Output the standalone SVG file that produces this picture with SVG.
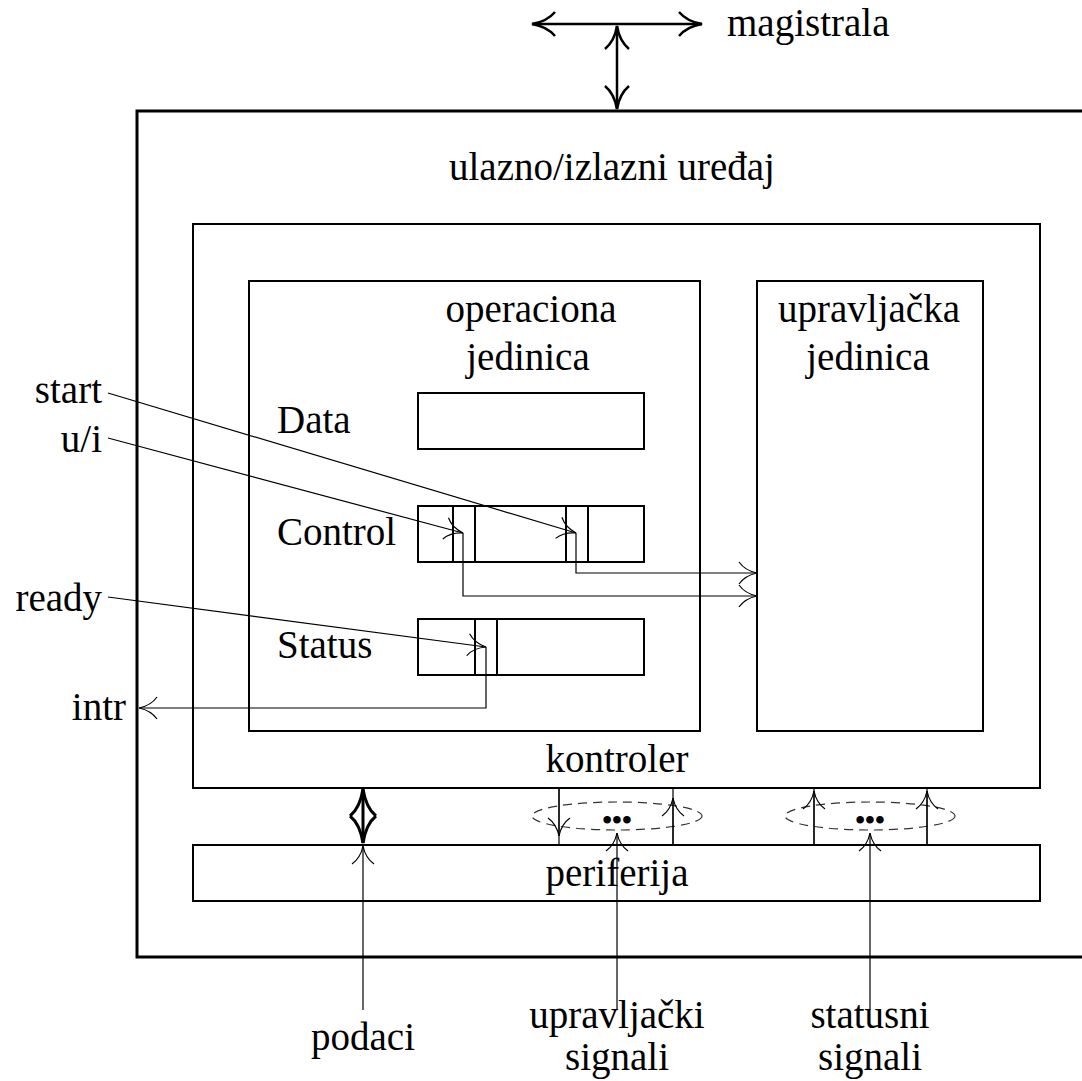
<svg xmlns="http://www.w3.org/2000/svg" width="1082" height="1081" viewBox="0 0 1082 1081">
<style>
  .t { font-family: "Liberation Serif", "Times New Roman", Times, "DejaVu Serif", serif; font-size: 39px; fill: #000; }
  .m { text-anchor: middle; }
  .e { text-anchor: end; }
  .dots { font-family: "Liberation Serif", "Times New Roman", "DejaVu Serif", serif; font-size: 28px; font-weight: bold; text-anchor: middle; }
  .box { fill: none; stroke: #000; stroke-width: 2; }
  .outer { fill: none; stroke: #000; stroke-width: 3; }
  .sig { fill: none; stroke: #000; stroke-width: 1.2; }
  .bus { fill: none; stroke: #000; stroke-width: 2.5; }
  .dash { fill: none; stroke: #333; stroke-width: 1.2; stroke-dasharray: 9 6; }
</style>
<defs>
  <marker id="aThin" markerUnits="userSpaceOnUse" orient="auto-start-reverse" viewBox="-22 -14 26 28" refX="0" refY="0" markerWidth="26" markerHeight="28" overflow="visible">
    <path d="M-18,-11 Q-12,-2.5 0,0 Q-12,2.5 -18,11" fill="none" stroke="#000" stroke-width="1.2"/>
  </marker>
  <marker id="aBus" markerUnits="userSpaceOnUse" orient="auto-start-reverse" viewBox="-30 -16 34 32" refX="0" refY="0" markerWidth="34" markerHeight="32" overflow="visible">
    <path d="M-23,-12 Q-15,-2.5 0,0 Q-15,2.5 -23,12" fill="none" stroke="#000" stroke-width="2.5"/>
  </marker>
  <marker id="aThick" markerUnits="userSpaceOnUse" orient="auto-start-reverse" viewBox="-34 -18 38 36" refX="0" refY="0" markerWidth="38" markerHeight="36" overflow="visible">
    <path d="M-27,-13 Q-19,-3 0,0 Q-19,3 -27,13" fill="none" stroke="#000" stroke-width="3"/>
  </marker>
</defs>

<g id="uredjaj">
  <path class="outer" d="M1082,111 L137,111 L137,957 L1082,957"/>
  <text class="t m" x="612" y="180">ulazno/izlazni uređaj</text>
</g>

<g id="kontroler">
  <rect class="box" x="193" y="224" width="847" height="564"/>
  <text class="t m" x="617" y="772">kontroler</text>
</g>

<g id="operaciona">
  <rect class="box" x="249" y="281" width="451" height="450"/>
  <text class="t m" x="531" y="322">operaciona</text>
  <text class="t m" x="528" y="370">jedinica</text>
</g>

<g id="upravljacka">
  <rect class="box" x="757" y="281" width="226" height="450"/>
  <text class="t m" x="869" y="322">upravljačka</text>
  <text class="t m" x="868" y="370">jedinica</text>
</g>

<g id="data">
  <rect class="box" x="418" y="393" width="226" height="56"/>
  <text class="t" x="277" y="433">Data</text>
</g>

<g id="control">
  <rect class="box" x="418" y="506" width="226" height="56"/>
  <line class="box" x1="453" y1="506" x2="453" y2="562"/>
  <line class="box" x1="475" y1="506" x2="475" y2="562"/>
  <line class="box" x1="566" y1="506" x2="566" y2="562"/>
  <line class="box" x1="588" y1="506" x2="588" y2="562"/>
  <text class="t" x="277" y="545">Control</text>
</g>

<g id="status">
  <rect class="box" x="418" y="619" width="226" height="56"/>
  <line class="box" x1="475" y1="619" x2="475" y2="675"/>
  <line class="box" x1="497" y1="619" x2="497" y2="675"/>
  <text class="t" x="277" y="658">Status</text>
</g>

<g id="periferija">
  <rect class="box" x="193" y="845" width="847" height="56"/>
  <text class="t m" x="617" y="886">periferija</text>
</g>

<g id="labels">
  <text class="t" x="727" y="36">magistrala</text>
  <text class="t e" x="102" y="403">start</text>
  <text class="t e" x="102" y="452">u/i</text>
  <text class="t e" x="102" y="611">ready</text>
  <text class="t e" x="126" y="720">intr</text>
  <text class="t m" x="363" y="1050">podaci</text>
  <text class="t m" x="617" y="1028">upravljački</text>
  <text class="t m" x="617" y="1070">signali</text>
  <text class="t m" x="870" y="1028">statusni</text>
  <text class="t m" x="870" y="1070">signali</text>
  <text class="dots" x="617" y="829">•••</text>
  <text class="dots" x="870" y="829">•••</text>
</g>

<g id="connectors">
  <line class="bus" x1="532" y1="24" x2="702" y2="24" marker-start="url(#aBus)" marker-end="url(#aBus)"/>
  <line class="bus" x1="617" y1="26" x2="617" y2="109" marker-start="url(#aBus)" marker-end="url(#aBus)"/>
  <path class="sig" d="M108,393 L576,533" marker-end="url(#aThin)"/>
  <path class="sig" d="M108,438 L463,533" marker-end="url(#aThin)"/>
  <path class="sig" d="M576,533 L576,573 L757,573" marker-end="url(#aThin)"/>
  <path class="sig" d="M463,533 L463,596 L757,596" marker-end="url(#aThin)"/>
  <path class="sig" d="M108,597 L486,647" marker-end="url(#aThin)"/>
  <path class="sig" d="M486,647 L486,708 L139,708" marker-end="url(#aThin)"/>
  <line x1="363" y1="789" x2="363" y2="843" stroke="#000" stroke-width="3" marker-start="url(#aThick)" marker-end="url(#aThick)"/>
  <path class="sig" d="M363,1010 L363,846" marker-end="url(#aThin)"/>
  <ellipse class="dash" cx="617" cy="816" rx="85" ry="14"/>
  <line class="sig" x1="559" y1="788" x2="559" y2="845"/>
  <path class="sig" d="M559,788 L559,836" marker-end="url(#aThin)"/>
  <path class="sig" d="M673,845 L673,798" marker-end="url(#aThin)"/>
  <line class="sig" x1="673" y1="788" x2="673" y2="845"/>
  <path class="sig" d="M617,1010 L617,833" marker-end="url(#aThin)"/>
  <ellipse class="dash" cx="870" cy="816" rx="85" ry="14"/>
  <path class="sig" d="M814,845 L814,791" marker-end="url(#aThin)"/>
  <line class="sig" x1="814" y1="788" x2="814" y2="845"/>
  <path class="sig" d="M927,845 L927,791" marker-end="url(#aThin)"/>
  <line class="sig" x1="927" y1="788" x2="927" y2="845"/>
  <path class="sig" d="M870,1010 L870,833" marker-end="url(#aThin)"/>
</g>
</svg>
